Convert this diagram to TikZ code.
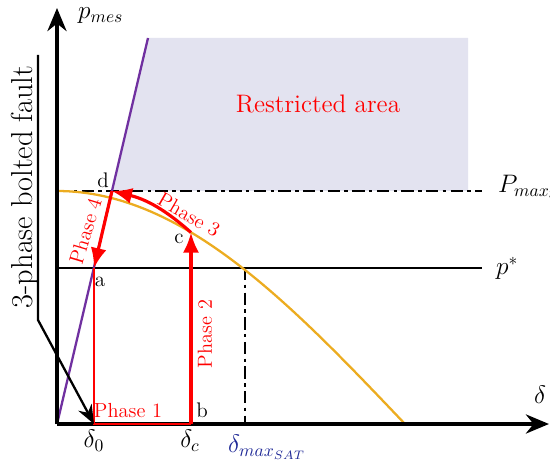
\documentclass[tikz,border=0pt]{standalone}
\usepackage{tikz}
\usetikzlibrary{arrows.meta,positioning}
\definecolor{CurveOrange}{RGB}{236,172,32}
\definecolor{LinePurple}{RGB}{112,48,160}
\definecolor{AreaBlue}{RGB}{227,227,240}
\definecolor{LabelBlue}{RGB}{30,40,150}

\begin{document}
\begin{tikzpicture}[
  axis/.style={
    -{Stealth[length=4.6mm, width=3.8mm]},
    line width=2.2pt},
  phase/.style={
    red, line width=1.4pt},
  phasearrow/.style={phase,
    line width=1.8pt,
    -{Latex[length=4mm, width=3.2mm]}},
  phasetxt/.style={
    red, font=\fontsize{11.6}{13}\selectfont},
  pointtxt/.style={
    font=\large},
  axistxt/.style={
    font=\Large},
  dashdot/.style={
    dash pattern=on 7pt off 2.5pt on 2pt off 2.5pt}
]
\useasboundingbox (-1.14,-0.84) rectangle (9.86,8.48);

% restricted area
\fill[AreaBlue] (1.10,4.66) -- (1.82,7.72)
  -- (8.22,7.72) -- (8.22,4.66) -- cycle;
\node[red, font=\Large] (area) at (5.22,6.4)
  {Restricted area};

\coordinate (O) at (0,0);
\coordinate (xend) at (9.84,0);
\coordinate (yend) at (0,8.32);
\coordinate (a) at (0.74,3.12);
\coordinate (b) at (2.68,0);
\coordinate (c) at (2.68,3.83);
\coordinate (d) at (1.10,4.66);
\coordinate (d0) at (0.74,0);
\coordinate (sat) at (3.76,3.12);
\coordinate (satb) at (3.76,0);
\coordinate (pmaxl) at (0,4.66);
\coordinate (pmaxr) at (8.5,4.66);
\coordinate (pstarl) at (0,3.12);
\coordinate (pstarr) at (8.5,3.12);
\coordinate (purpb) at (0.02,0.08);
\coordinate (purpt) at (1.82,7.72);
\coordinate (ftop) at (-0.38,7.38);
\coordinate (fbot) at (-0.38,2.08);

% levels
\draw[line width=1.6pt, dashdot] (pmaxl) -- (pmaxr);
\draw[line width=1.6pt] (pstarl) -- (pstarr);
\draw[line width=1.1pt, dashdot] (sat) -- (satb);

% power curve and stability limit
\draw[CurveOrange, line width=1.3pt, domain=0:6.96,
  samples=60] plot ({\x},{4.66*cos(\x/6.96*90)});
\draw[LinePurple, line width=1.3pt] (purpb) -- (purpt);

% axes
\draw[axis] (O) -- (xend);
\draw[axis] (O) -- (yend);

% phases
\draw[phase] (a) -- (d0) -- (b);
\draw[phasearrow] (b) -- (c);
\draw[phasearrow] (c) to[bend right=14] (d);
\draw[phasearrow] (d) -- (a);

\node[phasetxt] (ph1) at (1.42,0.26) {Phase 1};
\node[phasetxt, rotate=90] (ph2) at (2.96,1.8) {Phase 2};
\node[phasetxt, rotate=-30] (ph3) at (2.64,4.18) {Phase 3};
\node[phasetxt, rotate=73] (ph4) at (0.57,3.86) {Phase 4};

\node[pointtxt] (la) at (0.86,2.84) {a};
\node[pointtxt] (lb) at (2.9,0.28) {b};
\node[pointtxt] (lc) at (2.44,3.7) {c};
\node[pointtxt] (ld) at (0.92,4.88) {d};

% axis labels
\node[axistxt] (ldelta) at (9.66,0.58) {$\delta$};
\node[axistxt, anchor=west] (lpmes) at (0.3,8.16) {$p_{mes}$};
\node[axistxt] (ld0) at (0.74,-0.34) {$\delta_0$};
\node[axistxt] (ldc) at (2.66,-0.34) {$\delta_c$};
\node[axistxt, LabelBlue] (ldsat) at (4.2,-0.46)
  {$\delta_{max_{SAT}}$};
\node[axistxt, anchor=west] (lpmax) at (8.7,4.74)
  {$P_{max_3}$};
\node[axistxt, anchor=west] (lpstar) at (8.66,3.12)
  {$p^*$};

% fault
\node[rotate=90, font=\LARGE] (fault) at (-0.64,4.74)
  {3-phase bolted fault};
\draw[line width=1.3pt,
  -{Stealth[length=3.8mm, width=3mm]}]
  (ftop) -- (fbot) -- (d0);

\end{tikzpicture}
\end{document}
